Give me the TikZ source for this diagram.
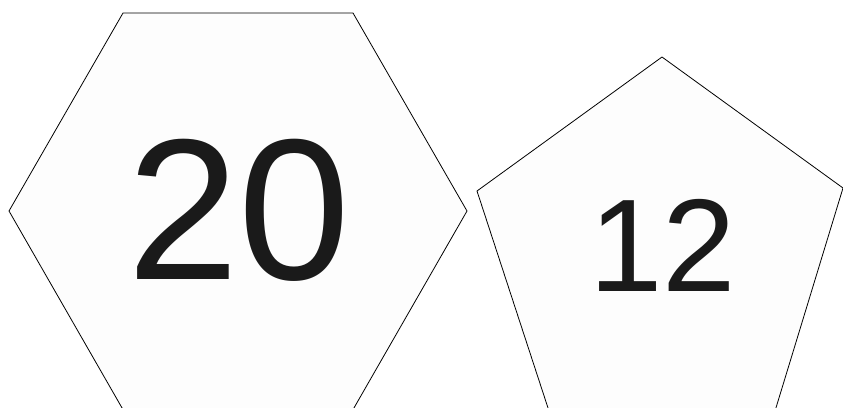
\documentclass[tikz,border=0pt]{standalone}
\usepackage{fontspec}
\setmainfont{Liberation Sans}
\definecolor{shapefill}{HTML}{FDFDFD}
\definecolor{digit}{HTML}{1A1A1A}
\begin{document}
\begin{tikzpicture}[x=1pt,y=-1pt,
  tile/.style={draw=black,line width=0.8pt,fill=shapefill,line join=miter},
  bignum/.style={inner sep=0pt,text=digit}]
\useasboundingbox (0,0) rectangle (843,407);
\begin{scope}
\clip (0,0) rectangle (843,407);
\draw[tile] (123,13) -- (353,13) -- (467,211) -- (352.2,411) -- (123.8,411) -- (9,211) -- cycle;
\draw[tile] (662,57) -- (843,188) -- (775,411) -- (549,411) -- (477,191) -- cycle;
\end{scope}
\node[bignum,font=\fontsize{201}{201}\selectfont] (twenty) at (239,210) {20};
\node[bignum,font=\fontsize{132}{132}\selectfont] (twelve) at (663,245.5) {12};
\end{tikzpicture}
\end{document}
